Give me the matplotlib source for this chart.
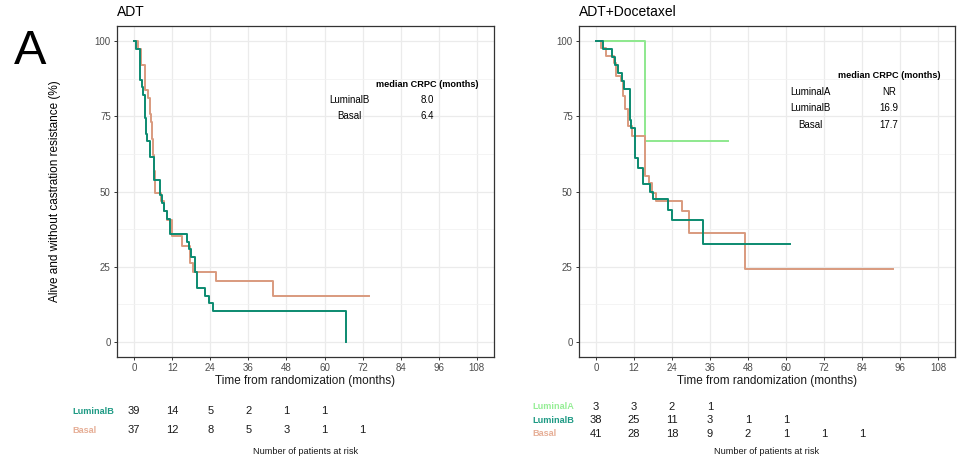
import matplotlib.pyplot as plt
from matplotlib.transforms import blended_transform_factory

plt.rcParams['font.family'] = ['Liberation Sans', 'DejaVu Sans']

# colours per subtype
col_lumA = '#8EE88E'
col_lumB = '#0B8A70'
col_basal = '#D99A7E'

# ADT arm: step times (months) and % free of castration resistance
adt_lumB_t = [0, 0.5, 1.9, 2.6, 2.9, 3.3, 3.7, 4.2, 4.9, 6.3, 8.1, 8.7, 9.4, 10.2, 11.2,
              16.6, 17.3, 18.0, 19.1, 19.7, 22.2, 23.6, 24.9, 66.8]
adt_lumB_s = [100, 97.4, 87.2, 84.6, 82.1, 74.4, 69.2, 66.7, 61.5, 53.8, 48.7, 46.2, 43.6, 41.0, 35.9,
              33.3, 30.8, 28.2, 23.1, 17.9, 15.4, 12.8, 10.3, 0]
adt_basal_t = [0, 1.1, 2.3, 3.5, 4.3, 5.0, 5.3, 5.6, 5.9, 6.2, 6.6, 8.6, 9.4, 10.2, 11.8,
               15.2, 17.6, 18.7, 25.7, 43.8, 73.9]
adt_basal_s = [100, 97.3, 91.9, 83.8, 81.1, 75.7, 73.0, 67.6, 62.2, 56.8, 49.6, 46.8, 43.5, 40.5, 35.1,
               31.8, 26.3, 23.4, 20.4, 15.3, 15.3]

# ADT+Docetaxel arm
doc_lumA_t = [0, 15.5, 41.6]
doc_lumA_s = [100, 66.7, 66.7]
doc_lumB_t = [0, 2.2, 4.9, 6.1, 6.8, 8.1, 8.9, 10.8, 11.1, 12.2, 13.3, 14.9, 17.1, 17.9,
              22.7, 23.9, 33.9, 61.4]
doc_lumB_s = [100, 97.4, 94.7, 92.1, 89.5, 86.8, 84.2, 73.7, 71.1, 61.0, 57.9, 52.6, 50.0, 47.4,
              44.0, 40.5, 32.7, 32.7]
doc_basal_t = [0, 1.6, 3.1, 5.8, 6.3, 7.9, 8.4, 9.1, 10.0, 11.2, 15.3, 16.8, 17.8, 18.9,
               27.3, 29.3, 47.2, 93.8]
doc_basal_s = [100, 97.6, 95.1, 92.7, 88.4, 86.7, 81.7, 77.3, 71.7, 68.6, 55.1, 52.9, 49.6, 46.8,
               43.5, 36.3, 24.1, 24.1]

# numbers at risk every 12 months
risk_times = [0, 12, 24, 36, 48, 60, 72, 84]
adt_risk_lumB = [39, 14, 5, 2, 1, 1]
adt_risk_basal = [37, 12, 8, 5, 3, 1, 1]
doc_risk_lumA = [3, 3, 2, 1]
doc_risk_lumB = [38, 25, 11, 3, 1, 1]
doc_risk_basal = [41, 28, 18, 9, 2, 1, 1, 1]

# median CRPC tables
adt_median_groups = ['LuminalB', 'Basal']
adt_median_vals = ['8.0', '6.4']
doc_median_groups = ['LuminalA', 'LuminalB', 'Basal']
doc_median_vals = ['NR', '16.9', '17.7']

fig = plt.figure(figsize=(9.61, 4.69), dpi=100)
W, H = 961, 469


def px_axes(x0, x1, y0, y1):
    return fig.add_axes([x0 / W, 1 - y1 / H, (x1 - x0) / W, (y1 - y0) / H])


def style(ax, title):
    ax.set_xlim(-5.4, 113.4)
    ax.set_ylim(-5, 105)
    ax.set_xticks(range(0, 109, 12))
    ax.set_yticks([0, 25, 50, 75, 100])
    ax.set_yticks([12.5, 37.5, 62.5, 87.5], minor=True)
    ax.grid(True, which='major', color='#EBEBEB', lw=0.9)
    ax.grid(True, which='minor', axis='y', color='#F2F2F2', lw=0.6)
    ax.set_axisbelow(True)
    for sp in ax.spines.values():
        sp.set_color('#333333')
        sp.set_linewidth(0.9)
    ax.tick_params(which='major', length=2.5, width=0.7, color='#333333',
                   labelsize=7, labelcolor='#4D4D4D', pad=2)
    ax.tick_params(which='minor', length=0)
    ax.set_xlabel('Time from randomization (months)', fontsize=8.5, color='#1A1A1A', labelpad=1)
    ax.set_title(title, loc='left', fontsize=10, pad=7)


def median_table(ax, groups, vals, y_head, dy):
    ax.text(92.5, y_head, 'median CRPC (months)', fontsize=6.6, fontweight='bold',
            ha='center', va='center')
    for i, (g, v) in enumerate(zip(groups, vals)):
        y = y_head - dy * (i + 1)
        ax.text(67.7, y, g, fontsize=7, ha='center', va='center')
        ax.text(92.5, y, v, fontsize=7, ha='center', va='center')


def risk_table(ax, rows, label_x, ys):
    tr = blended_transform_factory(ax.transData, fig.transFigure)
    for (name, counts, col), y in zip(rows, ys):
        fig.text(label_x / W, 1 - y / H, name, color=col, fontsize=6.6, fontweight='bold',
                 ha='left', va='center')
        for t, n in zip(risk_times, counts):
            ax.text(t, 1 - y / H, str(n), transform=tr, fontsize=8, ha='center', va='center',
                    color='#1A1A1A')
    ax.text(54, 1 - 451 / H, 'Number of patients at risk', transform=tr, fontsize=6.6,
            ha='center', va='center', color='#1A1A1A')


# ADT
ax1 = px_axes(117, 494, 26, 357)
style(ax1, 'ADT')
ax1.step(adt_basal_t, adt_basal_s, where='post', color=col_basal, lw=1.4)
ax1.step(adt_lumB_t, adt_lumB_s, where='post', color=col_lumB, lw=1.4)
median_table(ax1, adt_median_groups, adt_median_vals, 85.6, 5.3)
ax1.set_ylabel('Alive and without castration resistance (%)', fontsize=8.5, labelpad=24)
risk_table(ax1, [('LuminalB', adt_risk_lumB, '#1E9A84'),
                 ('Basal', adt_risk_basal, '#E6AE96')], 72, [411, 430])

# ADT+Docetaxel
ax2 = px_axes(579, 955, 26, 357)
style(ax2, 'ADT+Docetaxel')
ax2.step(doc_lumA_t, doc_lumA_s, where='post', color=col_lumA, lw=1.4)
ax2.step(doc_basal_t, doc_basal_s, where='post', color=col_basal, lw=1.4)
ax2.step(doc_lumB_t, doc_lumB_s, where='post', color=col_lumB, lw=1.4)
median_table(ax2, doc_median_groups, doc_median_vals, 88.6, 5.5)
risk_table(ax2, [('LuminalA', doc_risk_lumA, '#96EE96'),
                 ('LuminalB', doc_risk_lumB, '#1E9A84'),
                 ('Basal', doc_risk_basal, '#E6AE96')], 532, [406.5, 420, 433.5])

fig.text(14 / W, 1 - 51 / H, 'A', fontsize=35, ha='left', va='center')

fig.savefig('out.png', dpi=100)
